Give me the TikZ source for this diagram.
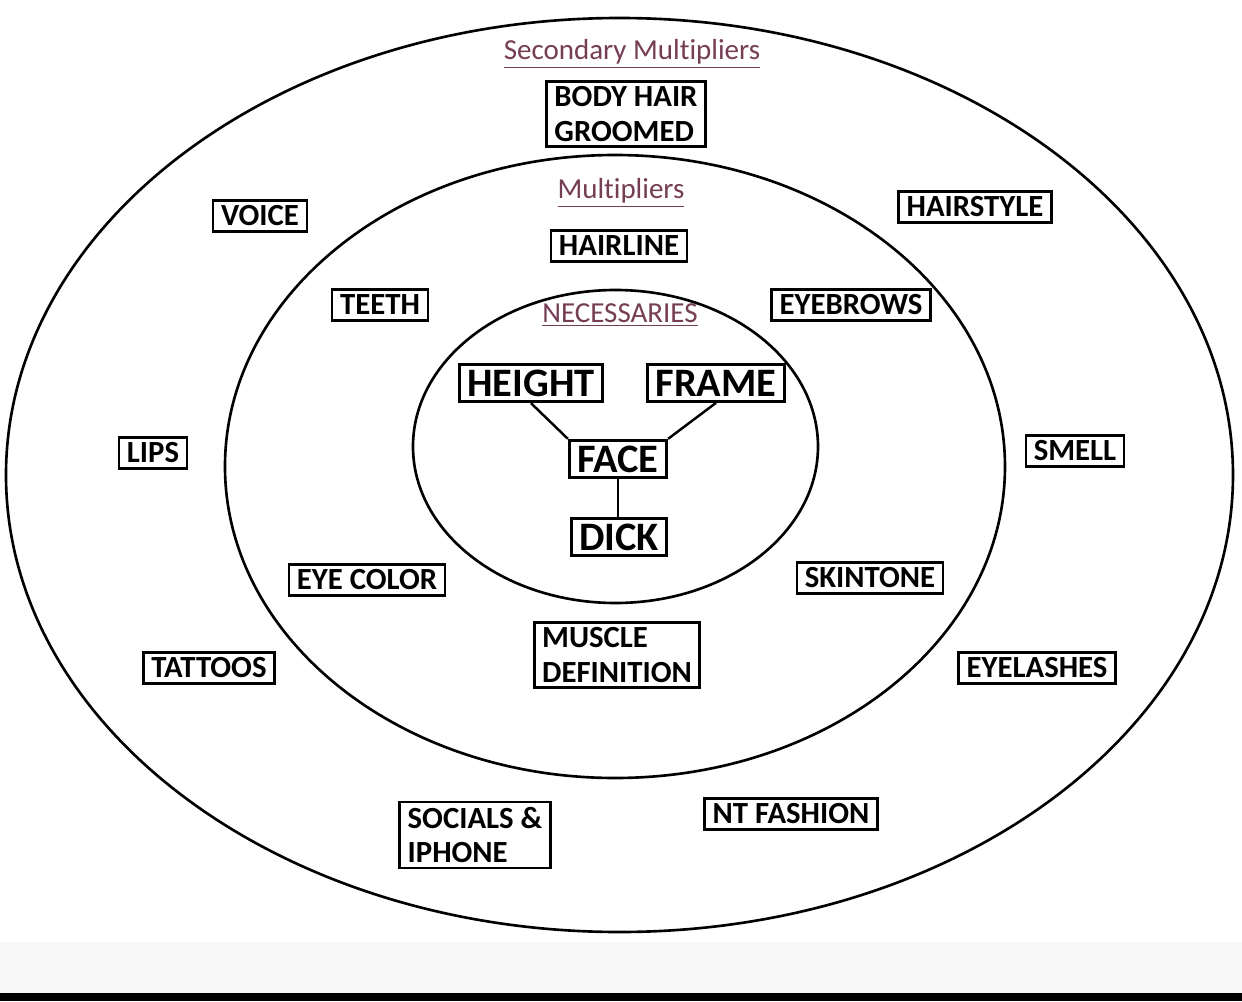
\documentclass[tikz,border=0pt]{standalone}
\usepackage{fontspec}
\setmainfont[Ligatures=NoCommon]{Carlito}
\definecolor{ringlabel}{RGB}{118,62,84}
\definecolor{stripgrey}{RGB}{248,248,248}

\begin{document}
\begin{tikzpicture}
    \tikzstyle{box}=[draw=black,line width=1.5pt,inner xsep=4.5pt,inner ysep=3pt,font=\fontsize{17.5}{19.5}\selectfont\bfseries,align=left]
    \tikzstyle{core}=[box,line width=1.7pt,font=\fontsize{23}{26}\selectfont\bfseries]
    \tikzstyle{ringname}=[text=ringlabel,font=\fontsize{16.5}{18}\selectfont]
    \tikzstyle{ring}=[draw=black,line width=1.5pt]

    \useasboundingbox (-12.42,-10.52) rectangle (12.42,9.50);
    \fill[white] (-12.42,-9.34) rectangle (12.42,9.50);
    \fill[stripgrey] (-12.42,-10.36) rectangle (12.42,-9.34);
    \fill[black] (-12.42,-10.52) rectangle (12.42,-10.36);

    % rings
    \draw[ring] (-0.03,0) ellipse [x radius=12.27, y radius=9.14];
    \draw[ring] (-0.12,0.17) ellipse [x radius=7.8, y radius=6.23];
    \draw[ring] (-0.11,0.57) ellipse [x radius=4.05, y radius=3.13];

    % ring names
    \node[ringname] at (0.22,8.42) (secname) {\underline{Secondary Multipliers}};
    \node[ringname] at (0,5.64) (multname) {\underline{Multipliers}};
    \node[ringname] at (-0.02,3.20) (necname) {\underline{NECESSARIES}};

    % necessaries
    \node[core] at (-1.80,1.84) (height) {HEIGHT};
    \node[core] at (1.90,1.84) (frame) {FRAME};
    \node[core] at (-0.06,0.32) (face) {FACE};
    \node[core] at (-0.04,-1.24) (dick) {DICK};

    \draw[line width=1.4pt] (height.south) -- (face.north west);
    \draw[line width=1.4pt] (frame.south) -- (face.north east);
    \draw[line width=1.4pt] (face.south) -- (face.south |- dick.north);

    % multipliers
    \node[box] at (-0.04,4.58) (hairline) {HAIRLINE};
    \node[box] at (-4.82,3.40) (teeth) {TEETH};
    \node[box] at (4.60,3.40) (eyebrows) {EYEBROWS};
    \node[box] at (-5.08,-2.10) (eyecolor) {EYE COLOR};
    \node[box] at (4.98,-2.06) (skintone) {SKINTONE};
    \node[box] at (-0.08,-3.60) (muscle) {MUSCLE\\DEFINITION};

    % secondary multipliers
    \node[box] at (0.10,7.22) (bodyhair) {BODY HAIR\\GROOMED};
    \node[box] at (-7.22,5.18) (voice) {VOICE};
    \node[box] at (7.08,5.36) (hairstyle) {HAIRSTYLE};
    \node[box] at (-9.36,0.44) (lips) {LIPS};
    \node[box] at (9.08,0.48) (smell) {SMELL};
    \node[box] at (-8.24,-3.86) (tattoos) {TATTOOS};
    \node[box] at (8.32,-3.86) (eyelashes) {EYELASHES};
    \node[box] at (-2.92,-7.20) (socials) {SOCIALS \&\\IPHONE};
    \node[box] at (3.40,-6.78) (ntfashion) {NT FASHION};
\end{tikzpicture}
\end{document}
